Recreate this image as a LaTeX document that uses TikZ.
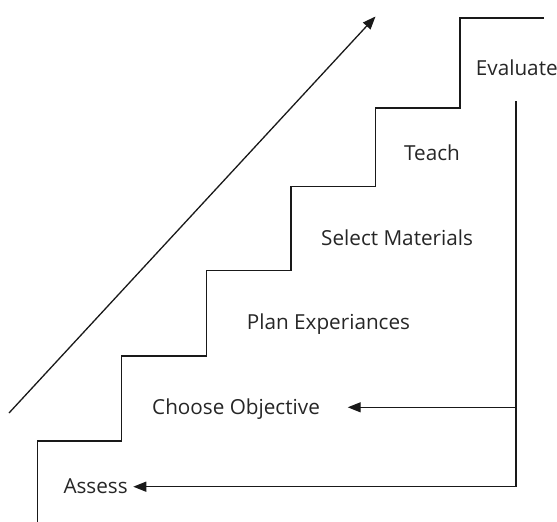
\documentclass[tikz,border=0pt]{standalone}
\usepackage{fontspec}
\setmainfont{Open Sans}
\usetikzlibrary{arrows.meta}
\begin{document}
\begin{tikzpicture}[x=1pt,y=-1pt,
  line/.style={draw=black!90,line width=1.3pt},
  arr/.style={line,-{Triangle[length=13pt,width=10pt]}},
  lbl/.style={anchor=base west,inner sep=0pt,text=black!85,font=\fontsize{20.7}{24}\selectfont}]
\useasboundingbox (0,0) rectangle (557,522);
% staircase
\draw[line] (37.3,522) -- (37.3,441) -- (121.7,441) -- (121.7,356)
  -- (206.5,356) -- (206.5,270.7) -- (291,270.7) -- (291,186.5)
  -- (375.3,186.5) -- (375.3,108) -- (460,108) -- (460,18) -- (543.5,18);
% step labels
\node[lbl] (evaluate) at (475.7,75.3) {Evaluate};
\node[lbl] (teach)    at (404,160)    {Teach};
\node[lbl] (select)   at (321,245)    {Select Materials};
\node[lbl] (plan)     at (246.7,329)  {Plan Experiances};
\node[lbl] (choose)   at (152,414.3)  {Choose Objective};
\node[lbl] (assess)   at (63.3,493)   {Assess};
% rising arrow
\coordinate (riseA) at (9,413);
\coordinate (riseB) at (375.5,16.5);
\draw[arr] (riseA) -- (riseB);
% feedback line
\coordinate (fbtop) at (516,101);
\coordinate (fbmid) at (516,407.3);
\coordinate (fbbot) at (516,486.7);
\coordinate (tipC) at (347.7,407.3);
\coordinate (tipA) at (133.3,486.7);
\draw[arr] (fbtop) -- (fbbot) -- (tipA);
\draw[arr] (fbmid) -- (tipC);
\end{tikzpicture}
\end{document}
